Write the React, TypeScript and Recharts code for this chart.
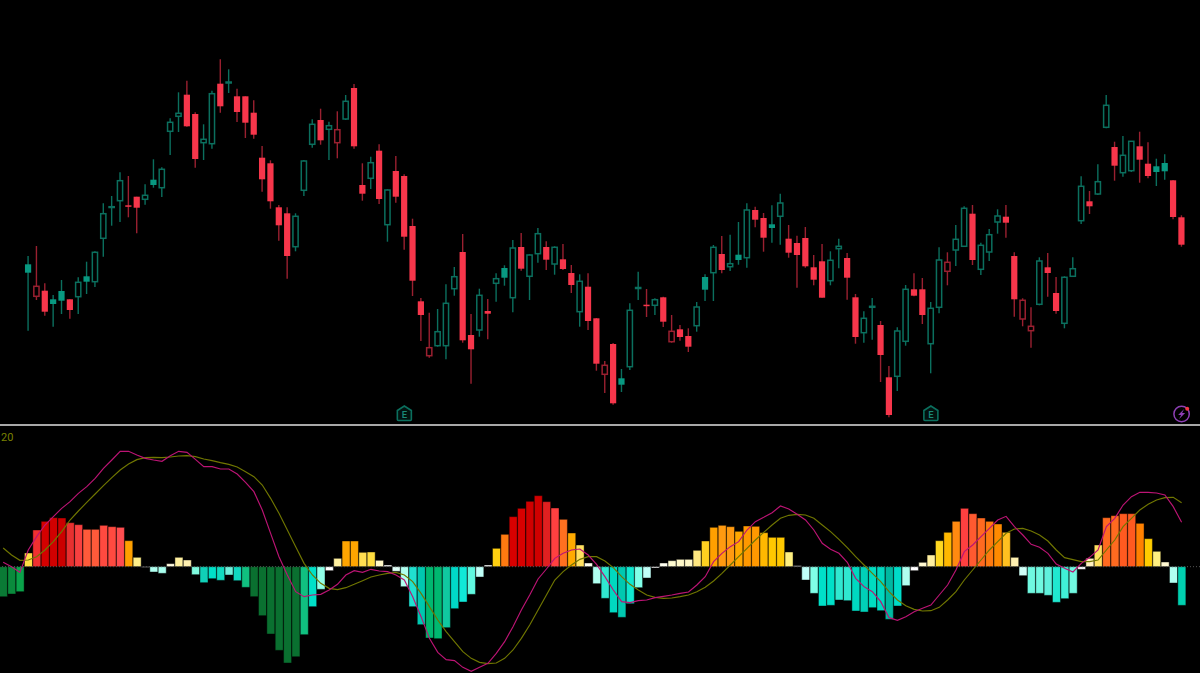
import { Bar, Cell, ComposedChart, Line, ReferenceDot, ReferenceLine, XAxis, YAxis } from 'recharts';

// Price pane values (no axis is shown in the source, so the unit is arbitrary)
const opens = [
  160.7, 128.7, 134.3, 125.7, 134, 125.7, 128.3, 148.7, 143.3, 186.7, 217.5, 224.3, 219.7, 228.3, 225.7, 245.3, 237.3, 293.7, 308.7, 330.3,
  311, 282.3, 281.3, 341.3, 342, 328.7, 328.7, 312.3, 267.3, 261.7, 217.7, 211.7, 178.3, 234.7, 280.7, 305, 295.7, 282.3, 306, 337,
  240, 246.7, 274.3, 200.3, 254, 249, 199, 123.7, 69.3, 79.3, 79.3, 136.3, 173, 90, 95, 114, 141.7, 157, 127.3, 178,
  148.7, 171.3, 178, 161, 165.7, 152, 113.3, 138.3, 106.7, 50.7, 81, 46.7, 58.3, 136.5, 120.3, 119.7, 127.7, 83.3, 95.7, 89,
  99.3, 148, 152.3, 171, 158.3, 170.3, 167.3, 215, 207, 200.7, 208.7, 186.3, 182, 187, 157.7, 163.7, 144.3, 176.3, 167, 127.7,
  92.3, 117.7, 100, 47.7, 48.7, 83.7, 135.7, 135.7, 81.3, 117.7, 153.7, 175, 178.7, 211.3, 155.7, 173, 203, 208.3, 169, 106,
  94.3, 120.7, 157.7, 132, 101.7, 148.7, 204.3, 223.7, 231, 297.7, 278, 252.3, 254.3, 278.7, 261.3, 258.7, 262, 244.7, 207.7,
];
const highs = [
  169, 179, 141.7, 130, 145, 125.7, 147.7, 163.3, 173.7, 221.7, 229, 252.7, 249, 228.3, 240.7, 265.7, 257.7, 306.7, 332.7, 344.3,
  312.7, 300.7, 334.3, 365.7, 355.7, 336.3, 328.7, 324.7, 279, 264.7, 220, 217.7, 211.7, 265, 305.7, 316.3, 303.3, 313.7, 330, 341,
  261.7, 268.3, 280.7, 235.7, 269, 250.7, 206.3, 127, 112.3, 116, 140.7, 158, 191, 111, 136.3, 126, 151.7, 159.7, 185, 192,
  170.7, 197, 183.7, 178.7, 181, 160, 150.7, 151.7, 107, 64, 82, 56, 121.7, 153.3, 136, 126.7, 128.3, 110, 100, 96.7,
  123, 150.7, 180, 189, 190.3, 203, 221.7, 218.3, 212, 219.7, 231.3, 200, 189.3, 198, 170, 181, 173.7, 186.3, 172, 131,
  113.7, 127, 104, 59, 97.7, 140, 151.7, 147, 123, 177.7, 172.7, 200, 218.7, 220, 182.3, 196, 215.7, 220, 172.7, 126.7,
  117.7, 167.7, 172, 148, 148.7, 167.7, 248.7, 234, 260.7, 330, 283.3, 289, 284, 293.3, 282.7, 266.3, 270.7, 245, 209.7,
];
const lows = [
  94.3, 125, 109.3, 98.3, 111, 106.3, 111, 131, 138, 168.3, 199.3, 203, 207.7, 191.7, 220.3, 237.3, 228, 270, 293, 298.3,
  257.3, 265, 276.3, 312.3, 332, 303, 287, 286.3, 233.3, 216.3, 184.3, 146.3, 173.7, 229, 277.3, 280.3, 265, 266.7, 305, 276.3,
  224.3, 236, 221, 183.3, 222.3, 175.3, 129, 84, 67.3, 78.3, 65.7, 129.3, 82.3, 41.3, 88.3, 85.7, 123.3, 139.3, 112.7, 154.3,
  125, 162.3, 155, 150.3, 155, 132, 98.3, 95, 54.3, 32, 20.3, 33, 55, 125, 108, 110, 98, 82.3, 84.3, 73,
  93.3, 124, 124, 151.7, 154, 160.3, 157.3, 197.7, 173.3, 182.3, 180.3, 167.3, 137.3, 157.3, 139.7, 127.3, 139.7, 156.7, 125.3, 81.3,
  82.3, 85.3, 43, 7.7, 34, 79.3, 128.7, 101, 51.7, 111.7, 139.7, 159, 178.3, 160, 150, 164, 191.3, 187.3, 108.3, 98.7,
  77.3, 119.7, 128.3, 111.3, 96.7, 148.3, 201, 211, 230, 296.7, 244.3, 248.3, 253, 242.3, 246.7, 239, 245.3, 205.7, 178.3,
];
const closes = [
  152.3, 138.7, 113.3, 121, 124.3, 115, 142.7, 143.3, 172.7, 211.3, 218.3, 244.3, 219, 217.3, 229.7, 240, 255.7, 302.7, 311.7, 298.7,
  266, 285.7, 331.3, 318.7, 343, 313, 302.3, 290.3, 245.7, 223.7, 199.7, 169, 208.7, 264, 300.7, 284.7, 299.3, 295.3, 323.7, 278.7,
  231.3, 262.3, 226, 235, 228.3, 188.3, 144.3, 110, 77.3, 93.3, 121.7, 148.3, 84.7, 75.7, 129.7, 111.3, 146.3, 147.3, 177, 156.3,
  170, 191.3, 165.3, 177.7, 156, 140, 143.7, 104, 61.3, 59.7, 21.7, 40.3, 114.7, 137.5, 119, 125.3, 103.3, 93.7, 88, 78.3,
  118, 135.3, 177.7, 155, 161.3, 165, 215, 205.3, 187.3, 197, 222, 172.3, 170, 158.7, 145.3, 127.3, 164.7, 178.7, 147.3, 88,
  106.7, 118.7, 70, 10, 94, 135.7, 129.3, 110, 116.7, 165, 162.7, 185.7, 216.7, 165, 179.7, 190.3, 209, 202.3, 125.7, 124.7,
  98.7, 164, 152, 114, 147.7, 156.3, 238.7, 218.7, 243.3, 319.7, 259.3, 269.7, 283.7, 265.3, 249, 253, 253.7, 208, 180.3,
];

// Oscillator pane values
const histogram = [
  -90, -82, -75, 41, 110, 136, 147, 146, 132, 126, 112, 112, 124, 120, 118, 78, 28, -2, -16, -20, 9, 28, 20, -24,
  -48, -36, -41, -25, -42, -62, -90, -147, -202, -251, -289, -270, -204, -120, -68, -12, 25, 77, 77, 43, 44, 19, 5, -14,
  -60, -120, -174, -214, -216, -183, -126, -106, -83, -31, 5, 55, 97, 150, 175, 196, 213, 195, 176, 142, 101, 65, 11, -51,
  -95, -138, -152, -111, -63, -34, -4, 11, 18, 22, 22, 49, 77, 118, 124, 120, 106, 122, 121, 102, 88, 88, 44, 3,
  -40, -80, -118, -116, -100, -102, -133, -136, -123, -132, -158, -118, -57, -12, 13, 35, 78, 103, 136, 175, 159, 146, 136, 128,
  103, 28, -27, -80, -80, -86, -107, -96, -80, -8, 25, 65, 147, 153, 159, 159, 130, 84, 46, 14, -49, -116,
];
const macd = [
  13, 0, -17, 50, 90, 125, 150, 175, 195, 220, 240, 265, 295, 320, 346, 346, 335, 325, 320, 316, 333, 346, 343, 322,
  300, 300, 293, 293, 278, 253, 225, 170, 100, 30, -25, -75, -90, -85, -83, -70, -53, -25, -12, -17, -8, -13, -15, -25,
  -40, -90, -150, -215, -257, -279, -282, -302, -314, -302, -290, -260, -225, -180, -130, -85, -37, -7, 25, 40, 50, 53, 35, 7,
  -30, -70, -105, -108, -102, -100, -93, -89, -85, -80, -76, -55, -30, 15, 40, 60, 75, 110, 135, 148, 162, 182, 173, 157,
  140, 110, 70, 52, 40, 13, -35, -60, -75, -105, -153, -161, -150, -135, -125, -115, -85, -55, -10, 45, 65, 90, 115, 140,
  151, 120, 95, 67, 58, 40, 8, -5, -16, 10, 28, 50, 120, 145, 185, 210, 223, 223, 221, 215, 180, 133,
];
const signal = [
  56, 35, 19, 20, 30, 50, 75, 105, 140, 167, 193, 218, 243, 267, 290, 308, 321, 327, 328, 327, 329, 332, 333, 330,
  323, 318, 312, 307, 299, 285, 270, 245, 205, 160, 110, 60, 10, -25, -50, -65, -69, -63, -53, -42, -31, -25, -20, -17,
  -25, -45, -80, -120, -160, -195, -225, -255, -275, -287, -291, -289, -275, -250, -215, -175, -130, -85, -40, -15, 5, 22, 30, 30,
  17, -3, -30, -53, -70, -85, -92, -95, -94, -90, -85, -75, -62, -43, -20, 5, 30, 55, 80, 103, 125, 145, 154, 157,
  155, 145, 125, 105, 82, 57, 30, 5, -20, -45, -75, -100, -117, -128, -133, -132, -122, -100, -75, -40, -10, 20, 50, 75,
  100, 113, 115, 107, 95, 77, 50, 27, 21, 15, 15, 20, 50, 80, 120, 145, 170, 187, 200, 207, 208, 192,
];
const histColors = [
  '#0a7a35', '#0a8a3c', '#0aa34a', '#ffdd44', '#f03030', '#d40000', '#d10000', '#cc0000', '#e83030', '#f84040', '#ff5a3a', '#ff5a3a',
  '#ff4a40', '#ff4a40', '#ff4d50', '#ffa000', '#fff08a', '#e8e8e8', '#b0fff0', '#a8ffee', '#fffbe0', '#fff0a0', '#fff0b0', '#7ffbe0',
  '#10d0b8', '#00e0c8', '#10dcc0', '#70f0dc', '#10d8c0', '#10c080', '#0a7030', '#0a7030', '#0a7030', '#0a7030', '#0a7030', '#0a7030',
  '#10c080', '#00e0c8', '#90ffe8', '#ffffff', '#fff0a0', '#ffa500', '#ffa500', '#ffdd50', '#ffdd40', '#fff8c8', '#ffffff', '#e0fff8',
  '#b0fff0', '#20e0d0', '#00c8b0', '#00b870', '#00b870', '#10c8a0', '#00d8c8', '#10e8d8', '#60f8e0', '#c0fff8', '#ffffff', '#ffd010',
  '#ff7a10', '#d80000', '#d80000', '#d00000', '#d00000', '#e02020', '#ff4040', '#ff7020', '#ffaa00', '#ffe060', '#fffff0', '#b0fff0',
  '#30e8d0', '#00d8c0', '#00c8b0', '#10e8d0', '#80ffe8', '#c0fff8', '#ffffff', '#fffff0', '#fffbd0', '#fff8c8', '#fff8c8', '#ffe880',
  '#ffd020', '#ffa000', '#ff9a10', '#ff9a10', '#ffa800', '#ff9800', '#ff9800', '#ffb800', '#ffc800', '#ffc800', '#fff080', '#ffffff',
  '#c0fff8', '#80ffe8', '#00e0c8', '#00e0c8', '#30e8d0', '#30e8d0', '#00d8c0', '#00d0b8', '#00dcc0', '#00d8c0', '#00b8a0', '#00dcc8',
  '#b0fff0', '#ffffff', '#fff8d0', '#fff0a0', '#ffd820', '#ffb800', '#ff8a10', '#ff4040', '#ff5a30', '#ff6a20', '#ff7a10', '#ff8a00',
  '#ffc020', '#fff0b0', '#d0fff8', '#70f8e0', '#70f8e0', '#60f0dc', '#20e8d0', '#40f0d8', '#70f8e0', '#ffffff', '#fff0c0', '#ffe060',
  '#ff6a20', '#ff6a20', '#ff5a20', '#ff5a20', '#ff8000', '#ffcc00', '#fff080', '#fff8d0', '#b0fff0', '#00d0b0',
];

const SLOTS = 144;
const CANDLE_OFFSET = 3; // the histogram starts three bars before the first candle
const PLOT_WIDTH = 1203.5;

const priceRows = Array.from({ length: SLOTS }, (_, k) => {
  const i = k - CANDLE_OFFSET;
  if (i < 0 || i >= closes.length) return { k };
  return {
    k,
    range: [lows[i], highs[i]],
    high: highs[i],
    low: lows[i],
    open: opens[i],
    close: closes[i],
    prevClose: i > 0 ? closes[i - 1] : closes[i],
  };
});

const macdRows = Array.from({ length: SLOTS }, (_, k) => ({
  k,
  hist: histogram[k],
  macd: macd[k],
  signal: signal[k],
}));

// hollow candle: fill depends on open/close, colour on the previous close
function Candle(props: any) {
  const { x, y, width, height, payload } = props;
  if (!payload || payload.high === undefined) return null;
  const { high, low, open, close, prevClose } = payload;
  const up = close >= prevClose;
  const hollow = close > open;
  const unit = Math.abs(height) / (high - low);
  const cx = x + width / 2;
  const bodyTop = y + (high - Math.max(open, close)) * unit;
  const bodyBottom = y + (high - Math.min(open, close)) * unit;
  const body = up ? '#089981' : '#f7364b';
  const dim = up ? '#0b6f5e' : '#9a2030';
  if (hollow) {
    return (
      <g>
        <line x1={cx} x2={cx} y1={y} y2={y + height} stroke={dim} strokeWidth={1.4} />
        <rect x={cx - 2.6} y={bodyTop} width={5.2} height={bodyBottom - bodyTop} fill="#000" stroke={dim} strokeWidth={1.5} />
      </g>
    );
  }
  return (
    <g>
      <line x1={cx} x2={cx} y1={y} y2={y + height} stroke={dim} strokeWidth={1.4} />
      <rect x={cx - 3.1} y={bodyTop} width={6.2} height={Math.max(bodyBottom - bodyTop, 1.5)} fill={body} />
    </g>
  );
}

function EarningsIcon({ cx, cy }: any) {
  const path = `M${cx - 7} ${cy - 3} L${cx} ${cy - 7.5} L${cx + 7} ${cy - 3} L${cx + 7} ${cy + 6} Q${cx + 7} ${cy + 7} ${cx + 6} ${cy + 7} L${cx - 6} ${cy + 7} Q${cx - 7} ${cy + 7} ${cx - 7} ${cy + 6} Z`;
  return (
    <g>
      <path d={path} fill="#02120f" stroke="#0b6f5e" strokeWidth={1.6} />
      <text x={cx} y={cy + 4} textAnchor="middle" fontFamily="Roboto" fontSize={9.5} fontWeight={500} fill="#1a8a78">
        E
      </text>
    </g>
  );
}

function DividendIcon({ cx, cy }: any) {
  const bolt = `M${cx + 2.5} ${cy - 5} L${cx - 3.5} ${cy + 1} L${cx - 0.5} ${cy + 1} L${cx - 2.5} ${cy + 5} L${cx + 3.5} ${cy - 1} L${cx + 0.5} ${cy - 1} Z`;
  return (
    <g>
      <circle cx={cx} cy={cy} r={7.7} fill="#000" stroke="#8e3fb5" strokeWidth={1.5} />
      <path d={bolt} fill="#8e3fb5" />
      <circle cx={cx + 5.6} cy={cy - 5.3} r={2} fill="#f23645" />
    </g>
  );
}

export default function App() {
  return (
    <div style={{ position: 'fixed', left: 0, top: 0, width: 1200, height: 673, background: '#000', overflow: 'hidden' }}>
      <div style={{ position: 'absolute', left: -1, top: 0 }}>
        <ComposedChart
          width={PLOT_WIDTH}
          height={425}
          data={priceRows}
          margin={{ top: 0, right: 0, bottom: 0, left: 0 }}
          barCategoryGap={0}
        >
          <XAxis dataKey="k" type="category" hide />
          <YAxis type="number" domain={[0, 425]} hide />
          <Bar dataKey="range" shape={Candle} isAnimationActive={false} />
          <ReferenceDot x={48} y={11.5} r={7} shape={EarningsIcon} />
          <ReferenceDot x={111} y={11.5} r={7} shape={EarningsIcon} />
          <ReferenceDot x={141} y={11} r={7} shape={DividendIcon} />
        </ComposedChart>
      </div>

      <div style={{ position: 'absolute', left: 0, top: 424, width: 1200, height: 1.5, background: '#a8a8a8' }} />

      <div style={{ position: 'absolute', left: -1, top: 425 }}>
        <ComposedChart
          width={PLOT_WIDTH}
          height={248}
          data={macdRows}
          margin={{ top: 0, right: 0, bottom: 0, left: 0 }}
          barCategoryGap="5%"
        >
          <XAxis dataKey="k" type="category" hide />
          <YAxis type="number" domain={[-319, 425]} hide />
          <ReferenceLine y={0} stroke="#555" strokeDasharray="1 2" />
          <Bar dataKey="hist" isAnimationActive={false}>
            {macdRows.map((row) => (
              <Cell key={row.k} fill={histColors[row.k]} stroke="rgba(0,0,0,0.42)" strokeWidth={1} />
            ))}
          </Bar>
          <Line dataKey="signal" type="linear" stroke="#707600" strokeWidth={1.15} dot={false} isAnimationActive={false} />
          <Line dataKey="macd" type="linear" stroke="#bc1474" strokeWidth={1.15} dot={false} isAnimationActive={false} />
        </ComposedChart>
      </div>

      <div style={{ position: 'absolute', left: 1, top: 431, fontFamily: 'Roboto', fontSize: 11, color: '#7a8000' }}>20</div>
    </div>
  );
}
